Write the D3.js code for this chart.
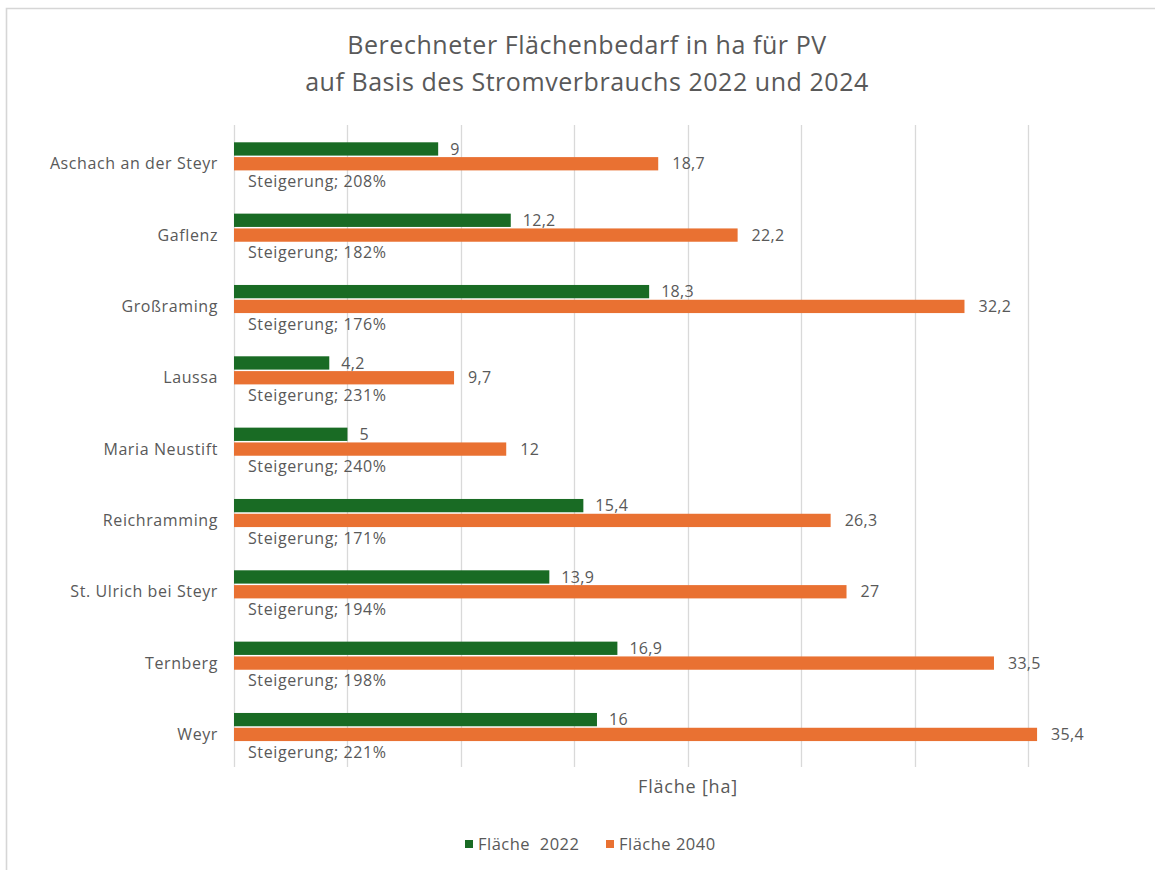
<!DOCTYPE html>
<html>
<head>
<meta charset="utf-8">
<script src="https://cdn.jsdelivr.net/npm/d3@7"></script>
<style>
  html, body { margin: 0; padding: 0; background: #fff; }
  svg { display: block; font-family: "Open Sans", sans-serif; }
</style>
</head>
<body>
<svg id="chart" width="1155" height="870"></svg>
<script>
// Gemeinden
const categories = [
  "Aschach an der Steyr", "Gaflenz", "Großraming", "Laussa", "Maria Neustift",
  "Reichramming", "St. Ulrich bei Steyr", "Ternberg", "Weyr"
];
// Fläche in ha
const flaeche2022 = [9, 12.2, 18.3, 4.2, 5, 15.4, 13.9, 16.9, 16];
const flaeche2040 = [18.7, 22.2, 32.2, 9.7, 12, 26.3, 27, 33.5, 35.4];
// Steigerung in %
const steigerung = [208, 182, 176, 231, 240, 171, 194, 198, 221];
const xTicks = [0, 5, 10, 15, 20, 25, 30, 35];

const seriesNames = ["Fläche  2022", "Fläche 2040"];
const colors = ["#196B24", "#E97132"];
const titleLines = [
  "Berechneter Flächenbedarf in ha für PV",
  "auf Basis des Stromverbrauchs 2022 und 2024"
];
const axisTitle = "Fläche [ha]";

const de = d3.formatLocale({ decimal: ",", thousands: ".", grouping: [3], currency: ["", " €"] });
const fmt = v => de.format(",")(v);

const svg = d3.select("#chart");
const textColor = "#595959";
const gridColor = "#d9d9d9";

// chart frame
svg.append("path")
  .attr("d", "M6.5,870 V8.5 H1155")
  .attr("fill", "none")
  .attr("stroke", "#d6d6d6")
  .attr("stroke-width", 1.6);

// title
svg.append("g").selectAll("text")
  .data(titleLines)
  .join("text")
  .attr("x", 587)
  .attr("y", (d, i) => 54 + i * 37)
  .attr("text-anchor", "middle")
  .attr("fill", textColor)
  .attr("font-size", 25)
  .attr("letter-spacing", 0.55)
  .text(d => d);

// scales
const x = d3.scaleLinear().domain([0, 35]).range([234, 1028]);
const y = d3.scaleBand().domain(categories).range([125, 767]);

// vertical gridlines
svg.append("g")
  .selectAll("line")
  .data(xTicks)
  .join("line")
  .attr("x1", d => Math.round(x(d)) + 0.5)
  .attr("x2", d => Math.round(x(d)) + 0.5)
  .attr("y1", 125)
  .attr("y2", 767)
  .attr("stroke", gridColor)
  .attr("stroke-width", 1.3);

const barH = 13.3;
const greenOff = 17.3;
const orangeOff = greenOff + barH + 1.5;

const rows = categories.map((c, i) => ({
  c, a: flaeche2022[i], b: flaeche2040[i], s: steigerung[i]
}));

const g = svg.append("g");

// bars 2022
g.selectAll("rect.a")
  .data(rows)
  .join("rect")
  .attr("class", "a")
  .attr("x", x(0))
  .attr("y", d => y(d.c) + greenOff)
  .attr("width", d => x(d.a) - x(0))
  .attr("height", barH)
  .attr("fill", colors[0]);

// bars 2040
g.selectAll("rect.b")
  .data(rows)
  .join("rect")
  .attr("class", "b")
  .attr("x", x(0))
  .attr("y", d => y(d.c) + orangeOff)
  .attr("width", d => x(d.b) - x(0))
  .attr("height", barH)
  .attr("fill", colors[1]);

// value labels
g.selectAll("text.va")
  .data(rows)
  .join("text")
  .attr("class", "va")
  .attr("x", d => x(d.a) + 12)
  .attr("y", d => y(d.c) + greenOff + barH / 2)
  .attr("dy", "0.35em")
  .attr("fill", textColor)
  .attr("font-size", 16)
  .attr("letter-spacing", 0.3)
  .text(d => fmt(d.a));

g.selectAll("text.vb")
  .data(rows)
  .join("text")
  .attr("class", "vb")
  .attr("x", d => x(d.b) + 14)
  .attr("y", d => y(d.c) + orangeOff + barH / 2)
  .attr("dy", "0.35em")
  .attr("fill", textColor)
  .attr("font-size", 16)
  .attr("letter-spacing", 0.3)
  .text(d => fmt(d.b));

// increase labels
g.selectAll("text.st")
  .data(rows)
  .join("text")
  .attr("class", "st")
  .attr("x", 248)
  .attr("y", d => y(d.c) + orangeOff + barH + 11)
  .attr("dy", "0.35em")
  .attr("fill", textColor)
  .attr("font-size", 16)
  .attr("letter-spacing", 0.6)
  .text(d => `Steigerung; ${d.s}%`);

// category labels
svg.append("g").selectAll("text")
  .data(categories)
  .join("text")
  .attr("x", 218)
  .attr("y", d => y(d) + orangeOff + barH / 2)
  .attr("dy", "0.35em")
  .attr("text-anchor", "end")
  .attr("fill", textColor)
  .attr("font-size", 16)
  .attr("letter-spacing", 0.6)
  .text(d => d);

// axis title
svg.append("text")
  .attr("x", 688)
  .attr("y", 787)
  .attr("dy", "0.35em")
  .attr("text-anchor", "middle")
  .attr("fill", textColor)
  .attr("font-size", 18)
  .attr("letter-spacing", 0.8)
  .text(axisTitle);

// legend
const legend = svg.append("g");
const legendItems = [
  { name: seriesNames[0], color: colors[0], x: 465 },
  { name: seriesNames[1], color: colors[1], x: 606 }
];
legendItems.forEach(it => {
  legend.append("rect")
    .attr("x", it.x)
    .attr("y", 840)
    .attr("width", 8)
    .attr("height", 8)
    .attr("fill", it.color);
  legend.append("text")
    .attr("x", it.x + 13)
    .attr("y", 844)
    .attr("dy", "0.35em")
    .attr("fill", textColor)
    .attr("font-size", 16.5)
    .attr("letter-spacing", 0.5)
    .style("white-space", "pre")
    .text(it.name);
});
</script>
</body>
</html>
